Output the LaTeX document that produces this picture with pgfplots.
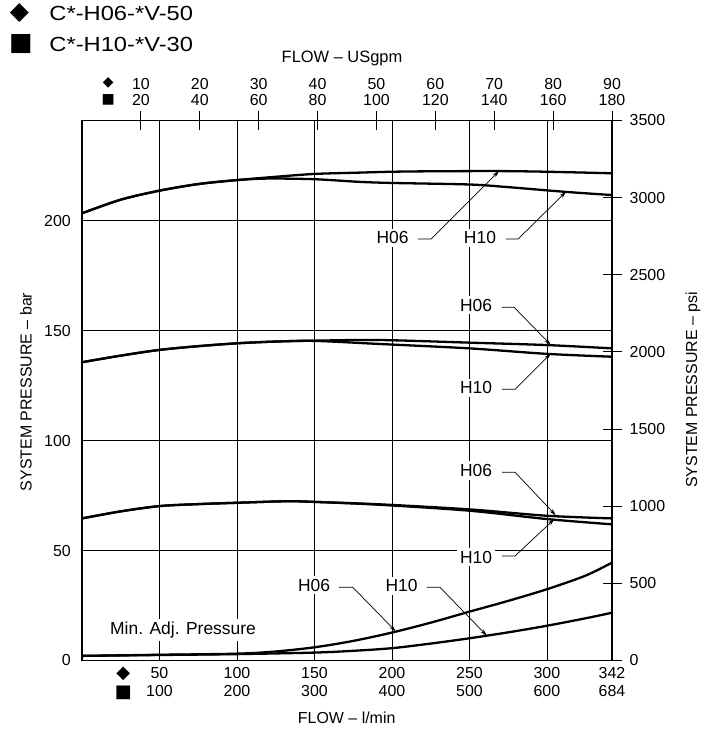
\documentclass[border=0pt]{standalone}
\usepackage{fontspec}
\setmainfont{Liberation Sans}
\newfontfamily\sym{DejaVu Sans}
\usepackage{graphicx}
\usepackage{pgfplots}
\pgfplotsset{compat=1.18}
\usetikzlibrary{arrows.meta}

\pgfplotstableread{
x y
0 203.3
25 209.5
50 213.6
75 216.6
100 218.4
125 219.9
150 221.2
179 221.8
200 222.2
225 222.4
268 222.5
300 222.2
342 221.5
}\hsixtop
\pgfplotstableread{
x y
0 203.3
25 209.5
50 213.6
75 216.6
100 218.4
120 219.1
150 218.8
179 217.6
200 217.1
250 216.4
275 215.2
311 213.1
342 211.6
}\htentop
\pgfplotstableread{
x y
0 135.6
25 138.6
50 141.2
75 142.9
100 144.2
125 145.0
150 145.4
192 145.7
250 144.5
300 143.4
342 141.9
}\hsixmid
\pgfplotstableread{
x y
0 135.6
25 138.6
50 141.2
75 142.9
100 144.2
125 145.0
150 145.3
192 143.9
250 141.9
300 139.4
342 138.1
}\htenmid
\pgfplotstableread{
x y
0 64.6
25 67.8
50 70.2
75 71.1
100 71.7
132 72.4
150 72.1
192 71.0
250 68.7
300 65.8
342 64.6
}\hsixlow
\pgfplotstableread{
x y
0 64.6
25 67.8
50 70.2
75 71.1
100 71.7
132 72.4
150 72.1
192 70.8
250 68.1
300 64.3
342 61.9
}\htenlow
\pgfplotstableread{
x y
0 2.1
50 2.6
100 3.1
125 4.1
150 6.0
175 8.9
200 12.7
225 17.2
250 22.2
275 27.1
300 32.4
325 38.6
342 44.5
}\hsixmin
\pgfplotstableread{
x y
0 2.1
50 2.5
100 2.9
150 3.6
175 4.4
200 5.6
225 7.7
250 10.1
275 12.8
300 15.8
325 19.2
342 21.7
}\htenmin

\begin{document}
\begin{tikzpicture}[x=1bp,y=1bp]
\useasboundingbox (-82,-68.5) rectangle (629,660.5);
\tikzset{lbl/.style={fill=white, inner sep=3bp, font=\fontsize{17.5}{20}\selectfont},
  lead/.style={line width=0.7bp, -{Stealth[length=7bp,width=4bp]}}}
% main axis (bar, l/min)
\begin{axis}[at={(0,0)}, anchor=south west, scale only axis,
  width=530bp, height=540bp,
  xmin=0, xmax=342, ymin=0, ymax=245.5,
  clip=false,
  axis line style={line width=1.6bp},
  xtick={50,100,150,200,250,300,342},
  xticklabels={50\\100,100\\200,150\\300,200\\400,250\\500,300\\600,342\\684},
  xticklabel style={align=center, inner sep=0pt},
  xticklabel shift=7bp,
  ytick={0,50,100,150,200},
  yticklabel shift=11bp,
  yticklabel style={inner sep=0pt},
  major tick length=0pt,
  tick label style={font=\fontsize{16}{18}\selectfont},
  /pgf/number format/assume math mode=true,
  grid=major,
  major grid style={line width=0.8bp, black},
  ]
\addplot[line width=2.3bp, smooth, black] table {\hsixtop};
\addplot[line width=2.3bp, smooth, black] table {\htentop};
\addplot[line width=2.3bp, smooth, black] table {\hsixmid};
\addplot[line width=2.3bp, smooth, black] table {\htenmid};
\addplot[line width=2.3bp, smooth, black] table {\hsixlow};
\addplot[line width=2.3bp, smooth, black] table {\htenlow};
\addplot[line width=2.3bp, smooth, black] table {\hsixmin};
\addplot[line width=2.3bp, smooth, black] table {\htenmin};
% annotations
\node[lbl] at (axis cs:200.4,192.1) {H06};
\draw[lead] (axis cs:216.8,191.6) -- (axis cs:225.2,191.6) -- (axis cs:269.1,222.5);
\node[lbl] at (axis cs:256.8,192.1) {H10};
\draw[lead] (axis cs:273.6,191.6) -- (axis cs:281.4,191.6) -- (axis cs:312.3,213.1);
\node[lbl] at (axis cs:254.3,161.6) {H06};
\draw[lead] (axis cs:271.0,160.6) -- (axis cs:278.8,160.6) -- (axis cs:302.5,143.5);
\node[lbl] at (axis cs:254.3,123.9) {H10};
\draw[lead] (axis cs:271.0,123.3) -- (axis cs:279.4,123.3) -- (axis cs:302.5,139.5);
\node[lbl] at (axis cs:254.3,86.3) {H06};
\draw[lead] (axis cs:271.0,85.6) -- (axis cs:279.4,85.6) -- (axis cs:305.7,66.0);
\node[lbl] at (axis cs:254.3,47.0) {H10};
\draw[lead] (axis cs:271.0,47.5) -- (axis cs:279.4,47.5) -- (axis cs:304.8,64.3);
\node[lbl] at (axis cs:149.7,34.3) {H06};
\draw[lead] (axis cs:165.8,33.3) -- (axis cs:174.7,33.3) -- (axis cs:202.4,13.3);
\node[lbl] at (axis cs:206.2,33.9) {H10};
\draw[lead] (axis cs:222.4,33.3) -- (axis cs:231.0,33.3) -- (axis cs:261.2,11.3);
\node[lbl] at (axis cs:65.2,13.9) {Min. Adj. Pressure};
\end{axis}
% top axis (USgpm)
\begin{axis}[at={(0,0)}, anchor=south west, scale only axis,
  width=530bp, height=540bp,
  xmin=0, xmax=90, ymin=0, ymax=1,
  axis x line*=top, axis y line=none,
  axis line style={line width=1.6bp},
  xtick={10,20,30,40,50,60,70,80,90},
  xticklabels={10\\20,20\\40,30\\60,40\\80,50\\100,60\\120,70\\140,80\\160,90\\180},
  xticklabel style={align=center, inner sep=0pt},
  xticklabel shift=5bp,
  tick align=center, major tick length=18.3bp,
  xtick style={line width=1bp, black},
  tick label style={font=\fontsize{16}{17}\selectfont},
  ]
\end{axis}
% right axis (psi)
\begin{axis}[at={(0,0)}, anchor=south west, scale only axis,
  width=530bp, height=540bp,
  xmin=0, xmax=1, ymin=0, ymax=3500,
  axis y line*=right, axis x line=none,
  axis line style={line width=1.6bp},
  ytick={0,500,1000,1500,2000,2500,3000,3500},
  yticklabel style={inner sep=0pt},
  yticklabel shift=8bp,
  tick align=center, major tick length=19bp,
  ytick style={line width=1bp, black},
  tick label style={font=\fontsize{16}{18}\selectfont},
  /pgf/number format/assume math mode=true,
  /pgf/number format/1000 sep={},
  ]
\end{axis}
% titles and legend
\node[font=\fontsize{16.5}{18}\selectfont] at (260,601.8) {FLOW – USgpm};
\node[font=\fontsize{16}{18}\selectfont] at (264.7,-57.8) {FLOW – l/min};
\node[font=\fontsize{16}{18}\selectfont, rotate=90] at (-56,268.5) {SYSTEM PRESSURE – bar};
\node[font=\fontsize{16}{18}\selectfont, rotate=90] at (611,270.5) {SYSTEM PRESSURE – psi};
\node[font=\sym\fontsize{25}{27}\selectfont, inner sep=0pt] at (-62.5,647) {◆};
\node[font=\sym\fontsize{25}{27}\selectfont, inner sep=0pt] at (-61,616.5) {■};
\node[anchor=west, inner sep=0pt, font=\fontsize{20.5}{22}\selectfont] at (-32.7,647.5) {\scalebox{1.16}[1]{C*-H06-*V-50}};
\node[anchor=west, inner sep=0pt, font=\fontsize{20.5}{22}\selectfont] at (-32.7,616.5) {\scalebox{1.16}[1]{C*-H10-*V-30}};
\node[font=\sym\fontsize{14}{16}\selectfont, inner sep=0pt] at (26.3,577.5) {◆};
\node[font=\sym\fontsize{14}{16}\selectfont, inner sep=0pt] at (26.3,560.5) {■};
\node[font=\sym\fontsize{18}{20}\selectfont, inner sep=0pt] at (41.3,-13.8) {◆};
\node[font=\sym\fontsize{18}{20}\selectfont, inner sep=0pt] at (41.3,-32.2) {■};
\end{tikzpicture}
\end{document}
